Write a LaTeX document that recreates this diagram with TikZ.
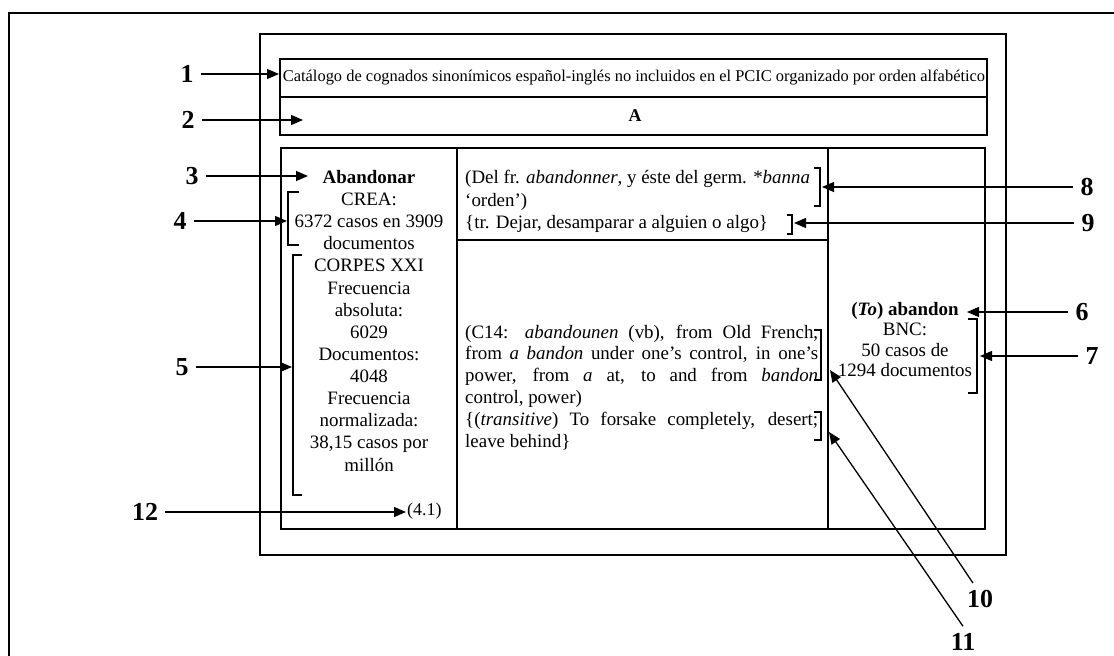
\documentclass[tikz,border=0pt]{standalone}
\usepackage{fontspec}
\setmainfont{Liberation Serif}
\usetikzlibrary{arrows.meta,calc}
\tikzset{
  frame/.style={line width=1.4bp, draw=black},
  thickframe/.style={line width=2.6bp, draw=black},
  bracket/.style={line width=1.2bp, draw=black},
  callout/.style={line width=1.3bp, draw=black, -{Triangle[length=12bp,width=10bp]}},
  numlabel/.style={font=\fontsize{26}{26}\selectfont\bfseries, inner sep=7bp},
  txt/.style={inner sep=0pt, font=\fontsize{19}{22.2}\selectfont},
}
\begin{document}
\begin{tikzpicture}[x=1bp,y=-1bp]
\useasboundingbox (0,0) rectangle (1114,656);
% outer frame (open on right and bottom)
\draw[line width=2bp] (1114,13) -- (9,13) -- (9,656);
% middle frame
\draw[frame] (260,34) rectangle (1006,555);
% title box
\draw[frame] (280,59) rectangle (987,135);
\draw[thickframe] (280,97) -- (987,97);
\node[inner sep=0pt, font=\fontsize{16.5}{18}\selectfont] (title) at (634,77) {Catálogo de cognados sinonímicos español-inglés no incluidos en el PCIC organizado por orden alfabético};
\node[inner sep=0pt, font=\fontsize{18}{18}\selectfont\bfseries] (letterA) at (635,116) {A};
% inner table
\draw[frame] (281,148) rectangle (985,529);
\draw[frame] (457,148) -- (457,529);
\draw[frame] (828,148) -- (828,529);
\draw[frame] (457,240) -- (828,240);
% column 1 text
\node[txt, anchor=base] (col1) at (369,183.5) {\parbox[t]{172bp}{\centering\fontsize{19}{22.2}\selectfont
\textbf{Abandonar}\\
CREA:\\
6372 casos en 3909\\
documentos\\
CORPES XXI\\
Frecuencia\\
absoluta:\\
6029\\
Documentos:\\
4048\\
Frecuencia\\
normalizada:\\
38,15 casos por\\
millón}};
\node[inner sep=0pt, anchor=west, font=\fontsize{18}{18}\selectfont] (ref) at (407,511) {(4.1)};
% column 2 top text
\node[txt, anchor=base west] (etymES) at (465,184) {\parbox[t]{355bp}{\raggedright\fontsize{19}{22.5}\selectfont
(Del fr. \textit{abandonner}, y éste del germ. *\textit{banna}\\
‘orden’)\\
\{tr. Dejar, desamparar a alguien o algo\}}};
% column 2 bottom text
\node[txt, anchor=base west] (etymEN) at (465,338) {\parbox[t]{353bp}{\fontsize{19}{22}\selectfont\parindent=0pt
(C14: \textit{abandounen} (vb), from Old French,\linebreak
from \textit{a bandon} under one’s control, in one’s\linebreak
power, from \textit{a} at, to and from \textit{bandon}\linebreak
control, power)\par
\{(\textit{transitive}) To forsake completely, desert;\linebreak
leave behind\}}};
% column 3 text
\node[txt, anchor=base] (col3) at (905,315) {\parbox[t]{155bp}{\centering\fontsize{19}{20.7}\selectfont
\textbf{(\textit{To}) abandon}\\
BNC:\\
50 casos de\\
1294 documentos}};
% brackets
\draw[bracket] (299,192) -- (288,192) -- (288,245) -- (299,245);
\draw[bracket] (302,255) -- (293,255) -- (293,495) -- (302,495);
\draw[bracket] (814,168) -- (820,168) -- (820,206) -- (814,206);
\draw[bracket] (787,215) -- (792,215) -- (792,234) -- (787,234);
\draw[bracket] (968,319) -- (977,319) -- (977,393) -- (968,393);
\draw[bracket] (814,330) -- (821,330) -- (821,380) -- (814,380);
\draw[bracket] (814,412) -- (821,412) -- (821,440) -- (814,440);
% number labels
\node[numlabel] (l1) at (187,74) {1};
\node[numlabel] (l2) at (188,120) {2};
\node[numlabel] (l3) at (192,176) {3};
\node[numlabel] (l4) at (180,221) {4};
\node[numlabel] (l5) at (182,367) {5};
\node[numlabel] (l12) at (145,512) {12};
\node[numlabel] (l8) at (1087,187) {8};
\node[numlabel] (l9) at (1088,223) {9};
\node[numlabel] (l6) at (1082,312) {6};
\node[numlabel] (l7) at (1092,356) {7};
\node[numlabel] (l10) at (980,599) {10};
\node[numlabel] (l11) at (963,642) {11};
% arrow targets
\coordinate (t1) at (279,74);
\coordinate (t2) at (303,120);
\coordinate (t3) at (308,176);
\coordinate (t4) at (287,221);
\coordinate (t5) at (292,367);
\coordinate (t12) at (406,512);
\coordinate (t8) at (822,187);
\coordinate (t9) at (794,223);
\coordinate (t6) at (967,312);
\coordinate (t7) at (980,356);
\coordinate (t10) at (830,370);
\coordinate (t11) at (829,432);
% callouts
\draw[callout] (l1) -- (t1);
\draw[callout] (l2) -- (t2);
\draw[callout] (l3) -- (t3);
\draw[callout] (l4) -- (t4);
\draw[callout] (l5) -- (t5);
\draw[callout] (l12) -- (t12);
\draw[callout] (l8) -- (t8);
\draw[callout] (l9) -- (t9);
\draw[callout] (l6) -- (t6);
\draw[callout] (l7) -- (t7);
\draw[callout] ([xshift=-7bp]l10.north) -- (t10);
\draw[callout] (l11.north) -- (t11);
\end{tikzpicture}
\end{document}
